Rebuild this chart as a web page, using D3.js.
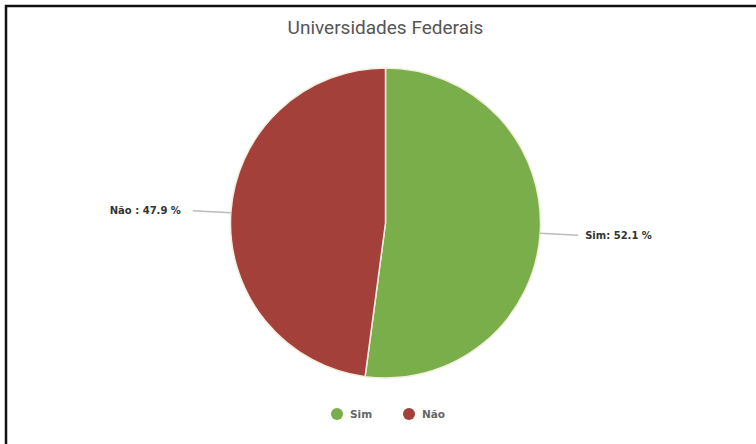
<!DOCTYPE html>
<html>
<head>
<meta charset="utf-8">
<script src="https://cdn.jsdelivr.net/npm/d3@7"></script>
<style>
  body { margin: 0; background: #fff; }
  text { font-family: Roboto, "Noto Sans", sans-serif; }
</style>
</head>
<body>
<div id="chart"></div>
<script>
// data
const categories = ["Sim", "Não"];
const values = [52.1, 47.9];
const colors = ["#7aae4a", "#a4403a"];
const title = "Universidades Federais";

const width = 756;
const height = 444;
const cx = 385.5, cy = 223;
const radius = 155;

const svg = d3.select("#chart")
  .append("svg")
  .attr("width", width)
  .attr("height", height);

// frame (only top and left edges show)
svg.append("path")
  .attr("d", `M6,${height} L6,6 L${width},6`)
  .attr("fill", "none")
  .attr("stroke", "#111")
  .attr("stroke-width", 2.5);

svg.append("text")
  .attr("x", cx)
  .attr("y", 34)
  .attr("text-anchor", "middle")
  .attr("font-size", 19)
  .attr("fill", "#555")
  .text(title);

const data = categories.map((c, i) => ({ name: c, value: values[i], color: colors[i] }));

const pie = d3.pie().sort(null).value(d => d.value);
const arcs = pie(data);

const arc = d3.arc().innerRadius(0).outerRadius(radius);

const g = svg.append("g").attr("transform", `translate(${cx},${cy})`);

g.selectAll("path.slice").data(arcs)
  .enter().append("path")
  .attr("class", "slice")
  .attr("d", arc)
  .attr("fill", d => d.data.color)
  .attr("stroke", "#f3eee0")
  .attr("stroke-width", 1.5);

// leader lines + labels
arcs.forEach(d => {
  const mid = (d.startAngle + d.endAngle) / 2;
  const x0 = Math.sin(mid) * radius;
  const y0 = -Math.cos(mid) * radius;
  const side = x0 > 0 ? 1 : -1;
  const x1 = x0 + side * 38;
  const y1 = y0 + side * 2;
  g.append("line")
    .attr("x1", x0).attr("y1", y0)
    .attr("x2", x1).attr("y2", y1)
    .attr("stroke", "#bbb")
    .attr("stroke-width", 1.5);
  const label = d.data.name === "Sim" ? `Sim: ${d.data.value} %` : `${d.data.name} : ${d.data.value} %`;
  g.append("text")
    .attr("x", x1 + side * (side > 0 ? 7 : 12))
    .attr("y", y1)
    .attr("dy", "0.35em")
    .attr("text-anchor", side > 0 ? "start" : "end")
    .style("font-family", "'DejaVu Sans', sans-serif")
    .style("font-size", "10px")
    .style("font-weight", "bold")
    .attr("fill", "#333")
    .text(label);
});

// legend
const legendX = d3.scalePoint().domain(categories).range([337, 409]);
const legend = svg.append("g");
categories.forEach((c, i) => {
  legend.append("circle")
    .attr("cx", legendX(c))
    .attr("cy", 414)
    .attr("r", 6)
    .attr("fill", colors[i]);
  legend.append("text")
    .attr("x", legendX(c) + 13)
    .attr("y", 414)
    .attr("dy", "0.35em")
    .style("font-family", "'DejaVu Sans', sans-serif")
    .style("font-size", "10.5px")
    .style("font-weight", "bold")
    .attr("fill", "#666")
    .text(c);
});
</script>
</body>
</html>
